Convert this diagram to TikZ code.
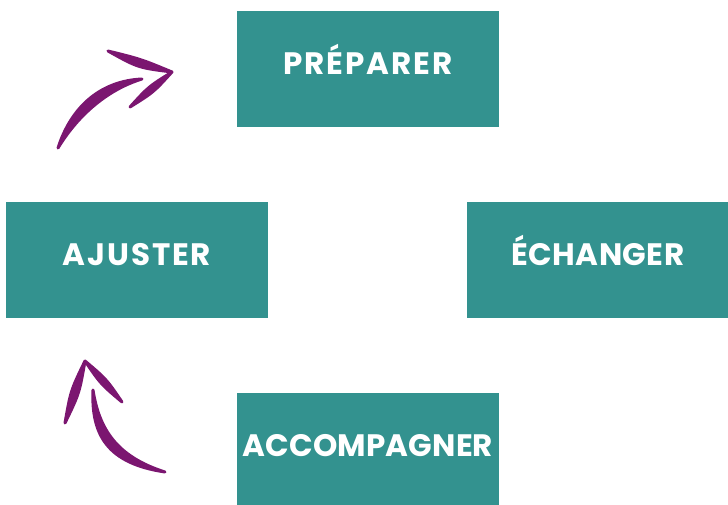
\documentclass[tikz,border=0pt]{standalone}
\usepackage{fontspec}
\setmainfont{Poppins}[BoldFont={* Bold}]
\newfontfamily\stagefont{Poppins Bold}[LetterSpace=6]
\newfontfamily\stagefontn{Poppins Bold}[LetterSpace=1.2]
\newfontfamily\stagefontc{Poppins Bold}[LetterSpace=0.4]
\definecolor{teal}{HTML}{33928F}
\definecolor{plum}{HTML}{7B1670}
\tikzset{
  stage/.style={fill=teal, text=white, minimum width=262pt, minimum height=116pt,
    inner sep=0pt, font=\stagefont\fontsize{31}{31}\selectfont,
    text height=1.14em, text depth=0pt, anchor=center},
  brushstroke/.style={fill=plum, draw=plum, line width=3pt, line join=round, line cap=round}
}
\newcommand\brushpath[4]{\filldraw[brushstroke] #1 .. controls #2 .. #3 .. controls #4 .. #1 -- cycle;}
\newcommand\brushcurve[6]{\filldraw[brushstroke] #1 .. controls #2 and #3 .. #4 .. controls #5 and #6 .. #1 -- cycle;}
\begin{document}
\begin{tikzpicture}[x=1pt,y=-1pt]
\useasboundingbox (0,0) rectangle (728,505);
\node[stage] (prep) at (368,69) {PRÉPARER};
\node[stage] (ajus) at (137,260) {AJUSTER};
\node[stage, font=\stagefontn\fontsize{31}{31}\selectfont] (ech) at (598,260) {ÉCHANGER};
\fill[teal] (237,393) rectangle (499,505);
\node[stage, fill=none, minimum height=112pt, font=\stagefontc\fontsize{31}{31}\selectfont] (acc) at (368,451) {ACCOMPAGNER};
% top arrow
\brushcurve{(58,148)}{(78.5,114.2)}{(108.5,89.2)}{(142,79)}{(101.5,80.8)}{(71.5,105.8)}
\brushpath{(108,51)}{(138,67.7)}{(172,72)}{(140.8,59.1)}
\brushpath{(172,72)}{(153.4,92.4)}{(130,107)}{(148.6,86.6)}
% bottom arrow
\brushpath{(85,361)}{(79.3,393.4)}{(65,423)}{(70.7,390.6)}
\brushpath{(85,361)}{(100.7,384)}{(122,402)}{(106.3,379)}
\brushcurve{(93,390)}{(91,435.5)}{(108,463.5)}{(165,472)}{(116,456.5)}{(99,428.5)}
\end{tikzpicture}
\end{document}
